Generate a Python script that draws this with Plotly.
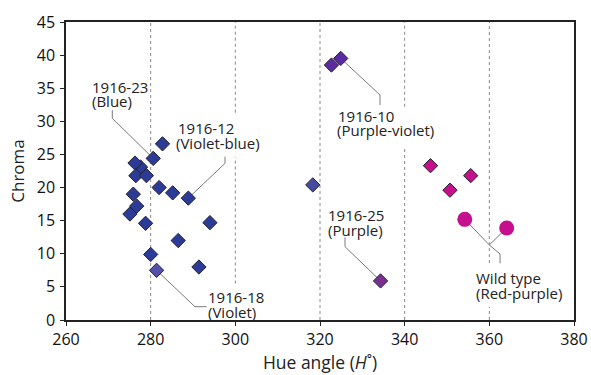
import plotly.graph_objects as go

# ---- data (hue angle H, chroma C) ----
blue_h = [282.8, 280.6, 277.6, 276.3, 276.5, 279.0, 282.0, 285.2, 288.9, 275.9, 276.7, 275.1, 278.8, 294.0, 286.5, 280.0, 291.4]
blue_c = [26.6, 24.4, 23.1, 23.7, 21.8, 21.8, 20.0, 19.2, 18.4, 19.0, 17.2, 16.0, 14.6, 14.7, 12.0, 9.9, 8.0]
bv_h = [318.3]
bv_c = [20.4]
violet_h = [281.4]
violet_c = [7.5]
pv_h = [322.7, 324.9]
pv_c = [38.5, 39.5]
purple_h = [334.3]
purple_c = [5.9]
rp_h = [346.1, 350.7, 355.6]
rp_c = [23.3, 19.6, 21.8]
wild_h = [354.2, 364.1]
wild_c = [15.2, 13.9]

x_ticks = [260, 280, 300, 320, 340, 360, 380]
y_ticks = [0, 5, 10, 15, 20, 25, 30, 35, 40, 45]
# dotted guide segments (hue, chroma from, chroma to) - gaps leave room for labels
guide_segments = [(280, 0, 45), (300, 31.3, 45), (300, 5.5, 24.6), (320, 0, 45),
                  (340, 32.2, 45), (340, 0, 26.0), (360, 8.6, 45), (360, 0, 2.0)]

FONT = "Open Sans"
fig = go.Figure()

def diamonds(h, c, color):
    fig.add_trace(go.Scatter(x=h, y=c, mode="markers",
                             marker=dict(symbol="diamond", size=11, color=color,
                                         line=dict(color="#23232e", width=1)),
                             hoverinfo="skip", showlegend=False))

diamonds(blue_h, blue_c, "#2c3b97")
diamonds(bv_h, bv_c, "#474ba0")
diamonds(violet_h, violet_c, "#5750a8")
diamonds(pv_h, pv_c, "#5a2aa0")
diamonds(purple_h, purple_c, "#7a2e90")
diamonds(rp_h, rp_c, "#c60f8c")
fig.add_trace(go.Scatter(x=wild_h, y=wild_c, mode="markers",
                         marker=dict(symbol="circle", size=15, color="#c60f8c"),
                         hoverinfo="skip", showlegend=False))

shapes = []
for g, c0, c1 in guide_segments:
    shapes.append(dict(type="line", xref="x", yref="y", x0=g, x1=g, y0=c0, y1=c1,
                       line=dict(color="#8a8a8a", width=1, dash="dot"), layer="below"))

def leader(pts):
    path = "M " + " L ".join(f"{x},{y}" for x, y in pts)
    shapes.append(dict(type="path", xref="x", yref="y", path=path,
                       line=dict(color="#7a7a7a", width=1), layer="below"))

# leader lines from labels to points
leader([(270.94, 31.71), (270.94, 30.46), (blue_h[1], blue_c[1])])
leader([(297.56, 24.66), (297.56, 23.66), (blue_h[8], blue_c[8])])
leader([(violet_h[0], violet_c[0]), (290.47, 2.01), (293.24, 2.01)])
leader([(pv_h[1], pv_c[1]), (334.18, 33.98), (334.18, 32.47)])
leader([(325.91, 12.49), (325.91, 11.07), (purple_h[0], purple_c[0])])
leader([(wild_h[0], wild_c[0]), (360.0, 11.33), (wild_h[1], wild_c[1])])
leader([(360.0, 11.33), (362.53, 9.97), (362.53, 8.56)])

annotations = []
def label(x, y, text):
    annotations.append(dict(x=x, y=y, xref="x", yref="y", text=text, showarrow=False,
                            xanchor="left", yanchor="middle",
                            font=dict(family=FONT, size=15, color="#222222")))

label(265.67, 35.11, "1916-23")
label(265.67, 33.07, "(Blue)")
label(286.06, 28.95, "1916-12")
label(285.51, 26.77, "(Violet-blue)")
label(293.14, 3.52, "1916-18")
label(293.14, 1.25, "(Violet)")
label(323.85, 30.81, "1916-10")
label(323.62, 28.69, "(Purple-violet)")
label(321.49, 15.86, "1916-25")
label(321.35, 13.59, "(Purple)")
label(356.38, 6.30, "Wild type")
label(356.38, 4.03, "(Red-purple)")

axis_common = dict(showgrid=False, zeroline=False, showline=True, linecolor="#222222",
                   linewidth=1.5, mirror=True, ticks="outside", ticklen=4,
                   tickwidth=1.2, tickcolor="#222222", automargin=False,
                   tickfont=dict(family=FONT, size=16, color="#111111"))

fig.update_layout(
    width=591, height=375,
    margin=dict(l=66, r=17, t=22, b=55),
    paper_bgcolor="white", plot_bgcolor="white",
    shapes=shapes, annotations=annotations,
    xaxis=dict(range=[260, 380], tickvals=x_ticks, ticktext=[str(v) for v in x_ticks],
               ticklabelstandoff=0,
               title=dict(text="Hue angle (<i>H</i>˚)", standoff=6,
                          font=dict(family=FONT, size=17.5, color="#222222")),
               **axis_common),
    yaxis=dict(range=[0, 45], tickvals=y_ticks, ticktext=[str(v) for v in y_ticks],
               ticklabelstandoff=2,
               title=dict(text="Chroma", standoff=8,
                          font=dict(family=FONT, size=17, color="#222222")),
               **axis_common),
)

# remove the default page margin so the figure sits at the window's top-left corner
fig.write_html("out.html", config={"displayModeBar": False},
               post_script="document.body.style.margin='0';")
